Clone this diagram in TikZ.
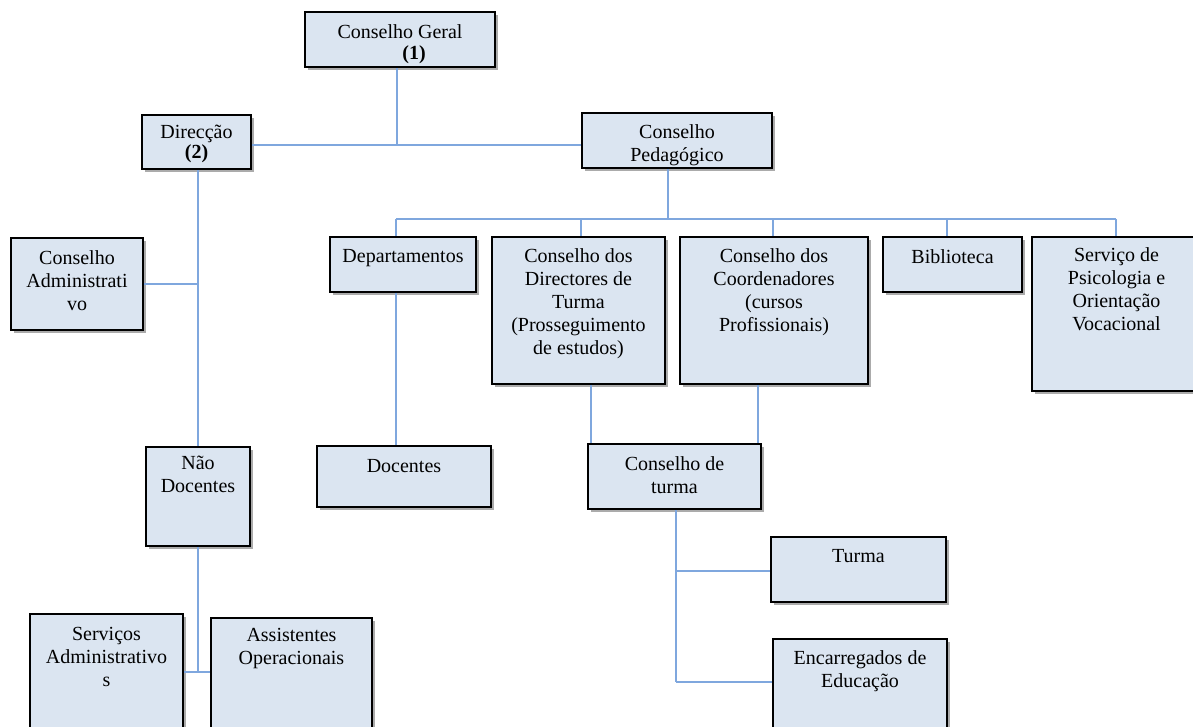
\documentclass[tikz,border=0pt]{standalone}
\usepackage{fontspec}
\setmainfont{Liberation Serif}
\usetikzlibrary{fit,shadows}
\definecolor{boxfill}{HTML}{DBE5F1}
\definecolor{linkblue}{HTML}{7FA7DE}
\begin{document}
\begin{tikzpicture}[x=1pt,y=-1pt,
  box/.style={draw=black, line width=1.6pt, fill=boxfill, inner sep=0pt,
    drop shadow={shadow xshift=3pt, shadow yshift=-3pt, fill=black!55, opacity=0.6}},
  txt/.style={anchor=north, align=center, inner sep=0pt, font=\fontsize{20}{23}\selectfont,
    execute at begin node={\rule{0pt}{16pt}}},
  link/.style={draw=linkblue, line width=1.8pt}]
\useasboundingbox (0,0) rectangle (1193,726);

% boxes
\node[box, fit={(305,12) (495,67)}] (cg) {};
\node[box, fit={(142,115) (251,169)}] (dir) {};
\node[box, fit={(582,113) (772,168)}] (cp) {};
\node[box, fit={(11,238) (143,330)}] (ca) {};
\node[box, fit={(330,237) (476,292)}] (dep) {};
\node[box, fit={(492,237) (665,384)}] (cdt) {};
\node[box, fit={(680,237) (868,384)}] (cc) {};
\node[box, fit={(883,237) (1022,292)}] (bib) {};
\node[box, fit={(1032,237) (1205,391)}] (spo) {};
\node[box, fit={(146,447) (250,546)}] (nd) {};
\node[box, fit={(317,446) (491,507)}] (doc) {};
\node[box, fit={(588,444) (761,509)}] (ct) {};
\node[box, fit={(771,537) (946,602)}] (tur) {};
\node[box, fit={(773,639) (947,740)}] (enc) {};
\node[box, fit={(30,614) (183,740)}] (sa) {};
\node[box, fit={(211,618) (372,740)}] (ao) {};

% texts
\node[txt, font=\fontsize{20}{21}\selectfont] (cg-t) at ([yshift=-13pt]cg.north) {Conselho Geral\\\hspace*{28pt}\textbf{(1)}};
\node[txt, font=\fontsize{20}{20}\selectfont] (dir-t) at ([yshift=-11pt]dir.north) {Direcção\\\textbf{(2)}};
\node[txt] (cp-t) at ([yshift=-12pt]cp.north) {Conselho\\Pedagógico};
\node[txt] (ca-t) at ([yshift=-13pt]ca.north) {Conselho\\Administrati\\vo};
\node[txt] (dep-t) at ([yshift=-10pt]dep.north) {Departamentos};
\node[txt] (cdt-t) at ([yshift=-12pt]cdt.north) {Conselho dos\\Directores de\\Turma\\(Prosseguimento\\de estudos)};
\node[txt] (cc-t) at ([yshift=-12pt]cc.north) {Conselho dos\\Coordenadores\\(cursos\\Profissionais)};
\node[txt] (bib-t) at ([yshift=-11pt]bib.north) {Biblioteca};
\node[txt] (spo-t) at ([xshift=-2pt,yshift=-11pt]spo.north) {Serviço de\\Psicologia e\\Orientação\\Vocacional};
\node[txt] (nd-t) at ([yshift=-10pt]nd.north) {Não\\Docentes};
\node[txt] (doc-t) at ([yshift=-11pt]doc.north) {Docentes};
\node[txt] (ct-t) at ([yshift=-13pt]ct.north) {Conselho de\\turma};
\node[txt] (tur-t) at ([yshift=-10pt]tur.north) {Turma};
\node[txt] (enc-t) at ([yshift=-12pt]enc.north) {Encarregados de\\Educação};
\node[txt] (sa-t) at ([yshift=-14pt]sa.north) {Serviços\\Administrativo\\s};
\node[txt] (ao-t) at ([yshift=-11pt]ao.north) {Assistentes\\Operacionais};

% junction coordinates
\coordinate (j1) at (397,145);
\coordinate (j2) at (198,284);
\coordinate (j3) at (198,672);
\coordinate (j4) at (668,219);
\coordinate (b1) at (396,219);
\coordinate (b2) at (581,219);
\coordinate (b3) at (773,219);
\coordinate (b4) at (947,219);
\coordinate (b5) at (1116,219);
\coordinate (c1) at (591,400);
\coordinate (c2) at (758,400);
\coordinate (k1) at (676,571);
\coordinate (k2) at (676,682);

% connectors
\draw[link] (j1 |- cg.south) -- (j1);
\draw[link] (dir.east |- j1) -- (cp.west |- j1);
\draw[link] (j3 |- dir.south) -- (j3 |- nd.north);
\draw[link] (ca.east |- j2) -- (j2);
\draw[link] (nd.south -| j3) -- (j3);
\draw[link] (sa.east |- j3) -- (ao.west |- j3);
\draw[link] (j4 |- cp.south) -- (j4);
\draw[link] (b1) -- (b5);
\draw[link] (b1) -- (b1 |- dep.north);
\draw[link] (b2) -- (b2 |- cdt.north);
\draw[link] (b3) -- (b3 |- cc.north);
\draw[link] (b4) -- (b4 |- bib.north);
\draw[link] (b5) -- (b5 |- spo.north);
\draw[link] (b1 |- dep.south) -- (b1 |- doc.north);
\draw[link] (c1 |- cdt.south) -- (c1 |- ct.north);
\draw[link] (c2 |- cc.south) -- (c2 |- ct.north);
\draw[link] (k1 |- ct.south) -- (k2);
\draw[link] (k1) -- (k1 -| tur.west);
\draw[link] (k2) -- (k2 -| enc.west);
\end{tikzpicture}
\end{document}
